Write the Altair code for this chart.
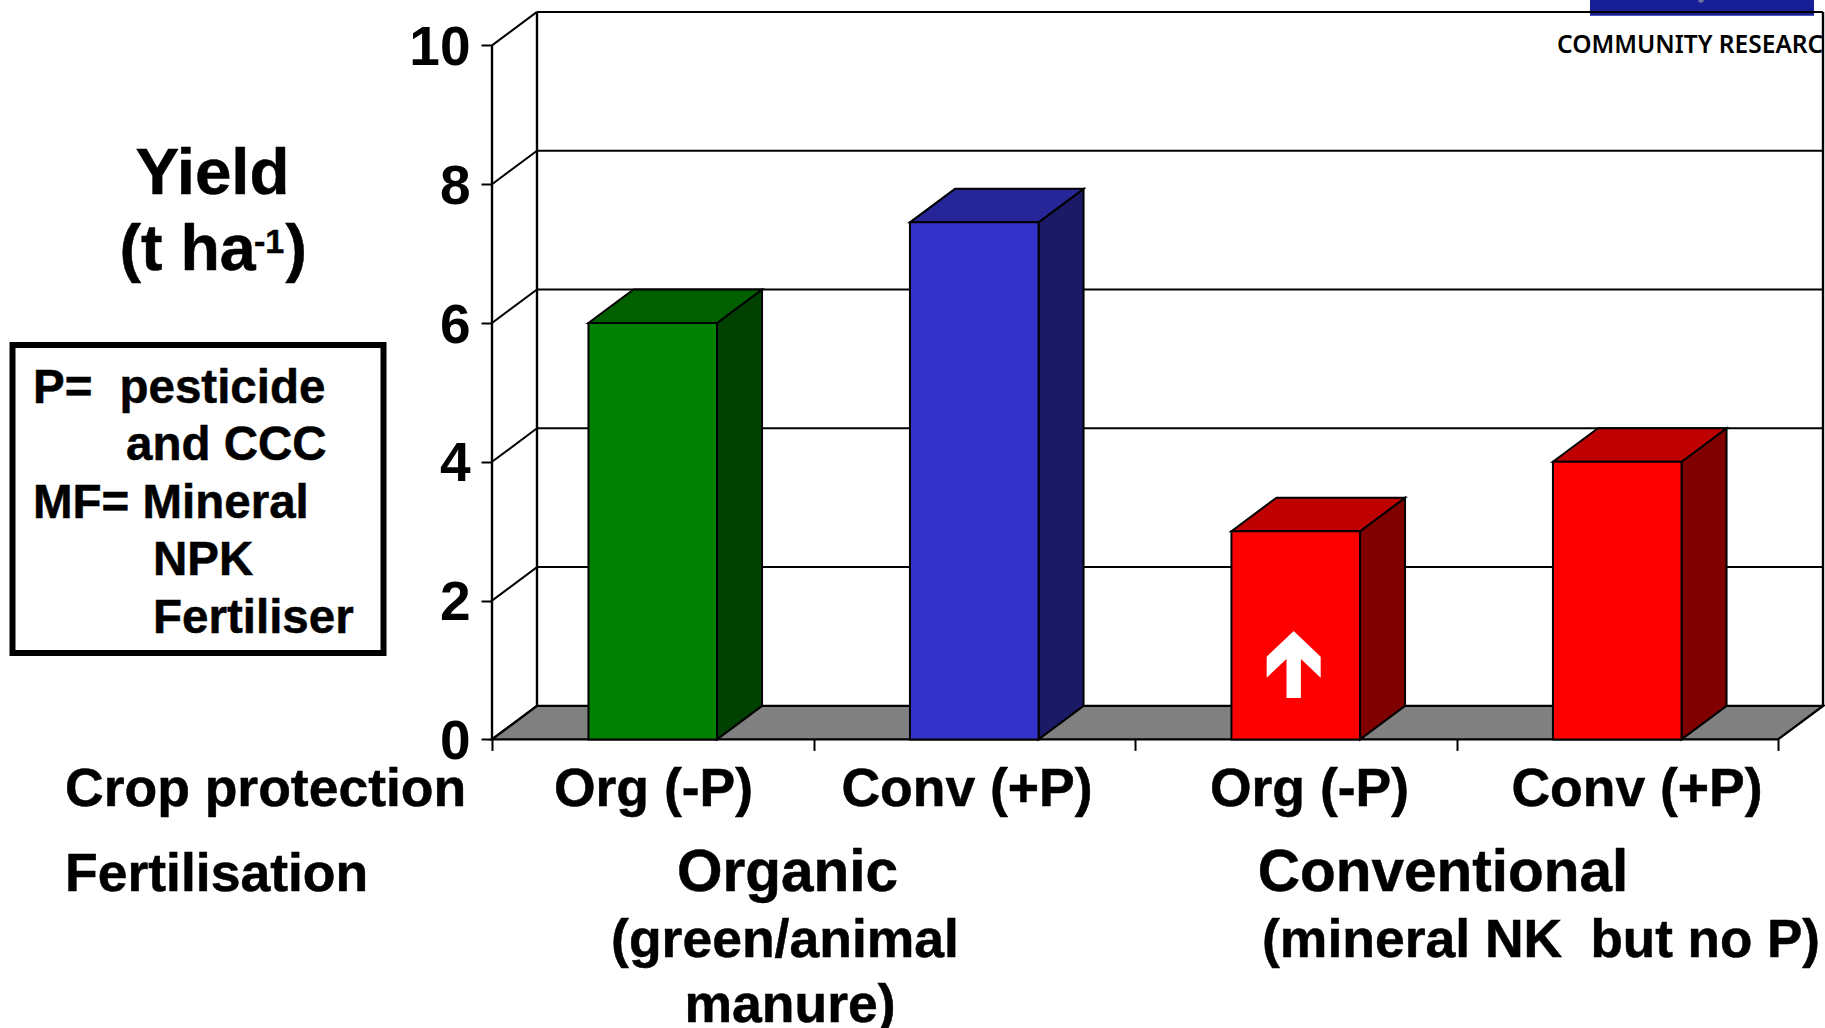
import altair as alt
import pandas as pd

# Bar heights, in t/ha
crop_protection = ["Org (-P)", "Conv (+P)", "Org (-P)", "Conv (+P)"]
fertilisation = ["Organic", "Organic", "Conventional", "Conventional"]
yields = [6.0, 7.45, 3.0, 4.0]

front_colors = ["#008000", "#3333cc", "#ff0000", "#ff0000"]
top_colors = ["#006000", "#262699", "#bf0000", "#bf0000"]
side_colors = ["#004000", "#1a1a66", "#800000", "#800000"]

y_ticks = [0, 2, 4, 6, 8, 10]
x_ticks = [0, 1, 2, 3, 4]

# Page layout of the pseudo-3D box
W, H = 1825, 1028
X0_PX, BAND_PX = 492, 321.5
Y0_PX, UNIT_PX = 739.4, 69.4
DEPTH_X = 45 / BAND_PX        # depth of the box, in band units
DEPTH_Y = 33.5 / UNIT_PX      # depth of the box, in t/ha
BAR_W = 0.4
FONT = "Liberation Sans"

x_scale = alt.Scale(domain=[-X0_PX / BAND_PX, (W - X0_PX) / BAND_PX], zero=False, nice=False)
y_scale = alt.Scale(domain=[(Y0_PX - H) / UNIT_PX, Y0_PX / UNIT_PX], zero=False, nice=False)

# Both axes show ticks and labels only, the lines themselves are drawn with the box.
# Every layer carries the same definition so that they merge into one axis each.
y_axis_def = alt.Axis(
    values=y_ticks, orient="left", offset=-X0_PX, domain=False, grid=False, title=None,
    tickSize=11, tickWidth=2, tickColor="black", labelPadding=11, format="d",
    labelFont=FONT, labelFontWeight="bold", labelFontSize=55, labelColor="black",
    labelOverlap=False, labelBound=False, labelFlush=False, labelOffset=2,
)
x_axis_def = alt.Axis(
    values=x_ticks, orient="bottom", offset=-(H - Y0_PX), domain=False, grid=False,
    title=None, tickSize=11, tickWidth=2, tickColor="black", labels=False,
)


def X(field="x"):
    return alt.X(f"{field}:Q", scale=x_scale, axis=x_axis_def)


def Y(field="y"):
    return alt.Y(f"{field}:Q", scale=y_scale, axis=y_axis_def)


def note(text, x, y, size, align="left", color="black", font=FONT, weight="bold", heavy=0.5):
    return alt.Chart(pd.DataFrame({"t": [text]})).mark_text(
        align=align, baseline="alphabetic", fontSize=size, font=font,
        fontWeight=weight, color=color, stroke=color, strokeWidth=heavy,
    ).encode(x=alt.value(x), y=alt.value(y), text="t:N")


def page_rect(x, x2, y, y2, **mark):
    return alt.Chart(pd.DataFrame({"a": [0]})).mark_rect(**mark).encode(
        x=alt.value(x), x2=alt.value(x2), y=alt.value(y), y2=alt.value(y2))


# Back wall: horizontal gridlines, wall edges and the diagonals on the side wall
far_x = x_ticks[-1] + DEPTH_X
wall_rows = pd.DataFrame({
    "x": [DEPTH_X] * len(y_ticks),
    "x2": [far_x] * len(y_ticks),
    "y": [v + DEPTH_Y for v in y_ticks],
})
wall_lines = alt.Chart(wall_rows).mark_rule(color="black", strokeWidth=2).encode(
    x=X(), x2="x2:Q", y=Y())

edge_rows = pd.DataFrame({
    "x": [DEPTH_X, far_x, 0],
    "y": [DEPTH_Y, DEPTH_Y, 0],
    "y2": [10 + DEPTH_Y, 10 + DEPTH_Y, 10],
})
wall_edges = alt.Chart(edge_rows).mark_rule(color="black", strokeWidth=2.4).encode(
    x=X(), y=Y(), y2="y2:Q")

diag_rows = pd.DataFrame(
    [{"tick": v, "x": 0, "y": v} for v in y_ticks]
    + [{"tick": v, "x": DEPTH_X, "y": v + DEPTH_Y} for v in y_ticks]
)
diagonals = alt.Chart(diag_rows).mark_line(color="black", strokeWidth=2).encode(
    x=X(), y=Y(), detail="tick:N")

# Grey floor
floor_rows = pd.DataFrame({
    "y": [0, DEPTH_Y],
    "x": [0, DEPTH_X],
    "x2": [x_ticks[-1], far_x],
})
floor = alt.Chart(floor_rows).mark_area(
    orient="horizontal", fill="#808080", stroke="black", strokeWidth=2.4, opacity=1
).encode(y=Y(), x=X(), x2="x2:Q")

# The three visible faces of each bar
front_rows, top_rows, side_rows = [], [], []
for i, (v, fc, tc, sc) in enumerate(zip(yields, front_colors, top_colors, side_colors)):
    left, right = i + 0.5 - BAR_W / 2, i + 0.5 + BAR_W / 2
    front_rows.append({"x": left, "x2": right, "y": 0, "y2": v, "fill": fc})
    top_rows += [
        {"bar": i, "y": v, "x": left, "x2": right, "fill": tc},
        {"bar": i, "y": v + DEPTH_Y, "x": left + DEPTH_X, "x2": right + DEPTH_X, "fill": tc},
    ]
    side_rows += [
        {"bar": i, "x": right, "y": 0, "y2": v, "fill": sc},
        {"bar": i, "x": right + DEPTH_X, "y": DEPTH_Y, "y2": v + DEPTH_Y, "fill": sc},
    ]

front_faces = alt.Chart(pd.DataFrame(front_rows)).mark_rect(stroke="black", strokeWidth=2).encode(
    x=X(), x2="x2:Q", y=Y(), y2="y2:Q", fill=alt.Fill("fill:N", scale=None))
top_faces = alt.Chart(pd.DataFrame(top_rows)).mark_area(
    orient="horizontal", stroke="black", strokeWidth=2, opacity=1
).encode(y=Y(), x=X(), x2="x2:Q", detail="bar:N", fill=alt.Fill("fill:N", scale=None))
side_faces = alt.Chart(pd.DataFrame(side_rows)).mark_area(
    orient="vertical", stroke="black", strokeWidth=2, opacity=1
).encode(x=X(), y=Y(), y2="y2:Q", detail="bar:N", fill=alt.Fill("fill:N", scale=None))

# White arrow on the third bar
arrow_path = ("M0,-1 L0.806,-0.233 L0.806,0.394 L0.215,-0.164 L0.215,1 "
              "L-0.215,1 L-0.215,-0.164 L-0.806,0.394 L-0.806,-0.233 Z")
arrow = alt.Chart(pd.DataFrame({"x": [2.4936], "y": [1.08]})).mark_point(
    shape=arrow_path, filled=True, color="white", opacity=1, size=4489, strokeWidth=0
).encode(x=X(), y=Y())

layers = [
    page_rect(1590, 1814, 0, 15.7, fill="#161f96"),
    alt.Chart(pd.DataFrame({"a": [0]})).mark_point(
        shape="circle", filled=True, color="#6f75a0", opacity=1, size=30
    ).encode(x=alt.value(1701), y=alt.value(0)),
    note("COMMUNITY RESEARCH", 1557, 52.7, 24.5, font="Noto Sans", weight=600, heavy=0),
    page_rect(1823, W, 0, 740, fill="white"),
    wall_lines,
    diagonals,
    wall_edges,
    floor,
    side_faces,
    top_faces,
    front_faces,
    arrow,
    # Yield title with its superscript
    note("Yield", 212.5, 194, 65.5, align="center"),
    note("(t ha", 119.5, 270, 64.5),
    note("-1", 254, 253, 34),
    note(")", 307, 270, 64.5, align="right"),
    # Key
    page_rect(12.5, 383.5, 345, 653, fill="white", stroke="black", strokeWidth=6),
    note("P=", 33, 402.7, 47.5),
    note("pesticide", 119.5, 402.7, 47.5),
    note("and CCC", 126, 460, 47.5),
    note("MF= Mineral", 33, 518, 47.5),
    note("NPK", 153, 575, 47.5),
    note("Fertiliser", 153, 632.7, 47.5),
    # Category rows under the axis
    note("Crop protection", 65, 805.7, 53.5),
    note("Fertilisation", 65, 891, 53.5),
    note(crop_protection[0], 653.5, 805.7, 53.5, align="center"),
    note(crop_protection[1], 967, 805.7, 53.5, align="center"),
    note(crop_protection[2], 1309.5, 805.7, 53.5, align="center"),
    note(crop_protection[3], 1637, 805.7, 53.5, align="center"),
    note(fertilisation[0], 787.5, 891, 58.5, align="center"),
    note(fertilisation[2], 1443, 891, 58.5, align="center"),
    note("(green/animal", 785, 956.7, 53.5, align="center"),
    note("manure)", 790, 1021.7, 53.5, align="center"),
    note("(mineral NK", 1262, 956.7, 53.5),
    note("but no P)", 1820, 956.7, 53, align="right"),
]

chart = alt.layer(*layers).properties(
    width=W, height=H, padding=0,
    autosize=alt.AutoSizeParams(type="none"),
    background="white",
).configure_view(stroke=None)

chart.save("out.html", embed_options={"renderer": "svg", "actions": False})
